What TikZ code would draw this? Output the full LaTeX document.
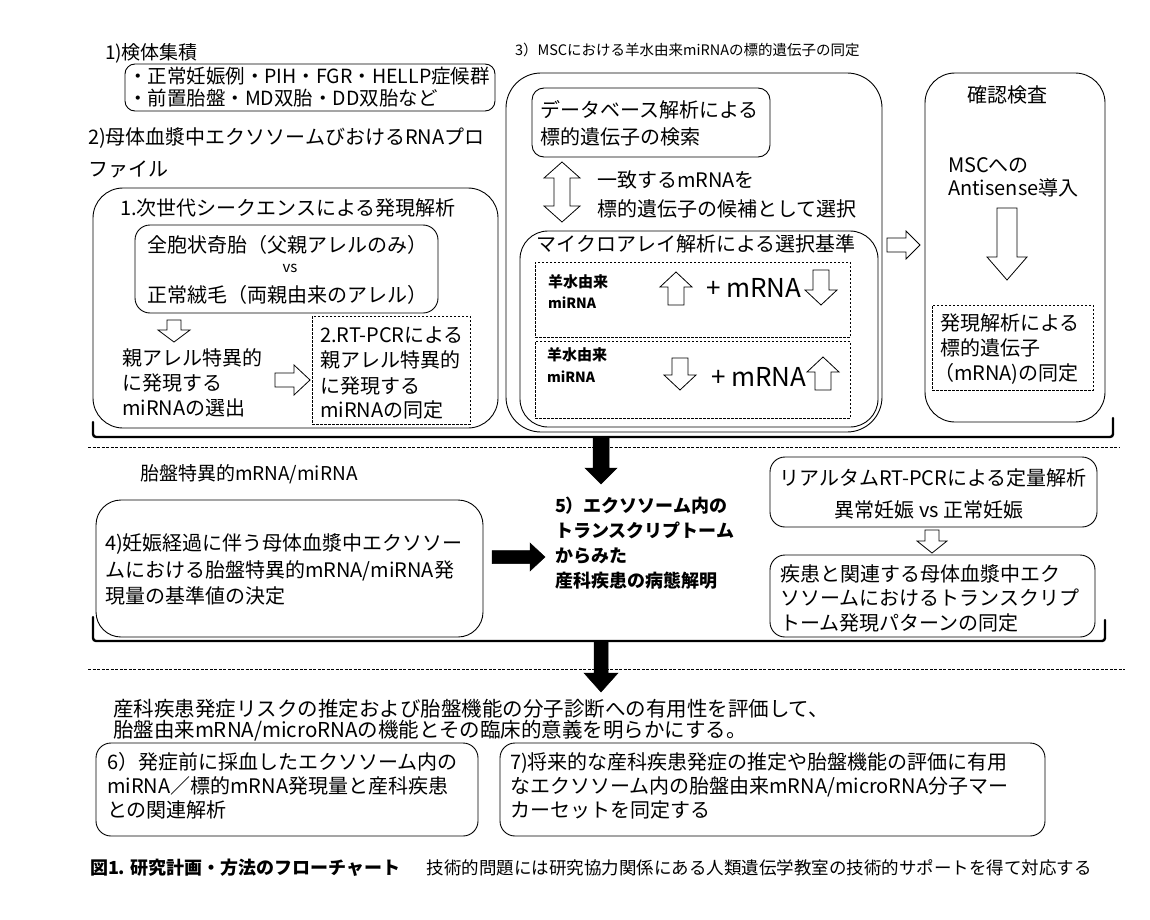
\documentclass[tikz,border=0pt]{standalone}
\usepackage{fontspec}
\setmainfont{Noto Sans CJK JP}
\newcommand\BoxAt[6]{\node[#6, minimum width={#4-#2}, minimum height={#5-#3}] (#1) at ({(#2+#4)/2},{(#3+#5)/2}) {};}
\newcommand\ArrDown[7]{\draw[#7] ({#1-#4/2},#2) -- ({#1+#4/2},#2) -- ({#1+#4/2},{#3-#6}) -- ({#1+#5/2},{#3-#6}) -- (#1,#3) -- ({#1-#5/2},{#3-#6}) -- ({#1-#4/2},{#3-#6}) -- cycle;}
\newcommand\ArrUp[7]{\draw[#7] ({#1-#4/2},#2) -- ({#1+#4/2},#2) -- ({#1+#4/2},{#3+#6}) -- ({#1+#5/2},{#3+#6}) -- (#1,#3) -- ({#1-#5/2},{#3+#6}) -- ({#1-#4/2},{#3+#6}) -- cycle;}
\newcommand\ArrRight[7]{\draw[#7] (#2,{#1-#4/2}) -- (#2,{#1+#4/2}) -- ({#3-#6},{#1+#4/2}) -- ({#3-#6},{#1+#5/2}) -- (#3,#1) -- ({#3-#6},{#1-#5/2}) -- ({#3-#6},{#1-#4/2}) -- cycle;}
\newcommand\ArrUpDown[6]{\draw[hol] (#1,#2) -- ({#1+#5/2},{#2+#6}) -- ({#1+#4/2},{#2+#6}) -- ({#1+#4/2},{#3-#6}) -- ({#1+#5/2},{#3-#6}) -- (#1,#3) -- ({#1-#5/2},{#3-#6}) -- ({#1-#4/2},{#3-#6}) -- ({#1-#4/2},{#2+#6}) -- ({#1-#5/2},{#2+#6}) -- cycle;}
\begin{document}
\begin{tikzpicture}[x=1pt,y=-1pt,
  boxr/.style={draw, line width=0.9pt, rounded corners=#1, inner sep=0pt, outer sep=0pt},
  boxd/.style={draw, line width=0.7pt, dash pattern=on 2.5pt off 1.5pt, inner sep=0pt, outer sep=0pt},
  tl/.style={inner sep=0pt, outer sep=0pt, anchor=base west, font=\fontsize{20}{24}\selectfont},
  tc/.style={tl, anchor=base},
  hol/.style={draw, fill=white, line width=0.8pt, line join=miter},
  blk/.style={draw, fill=black, line width=0.5pt},
  brk/.style={line width=2.4pt, rounded corners=3pt, line cap=round},
  sepl/.style={line width=0.6pt, dash pattern=on 3pt off 1.5pt},
  sm/.style={font=\fontsize{15}{18}\selectfont\bfseries},
  smm/.style={font=\fontsize{14}{17}\selectfont\bfseries},
  big/.style={font=\fontsize{26}{28}\selectfont},
  bd/.style={font=\fontsize{18}{22}\selectfont\bfseries}
]
\fill[white] (0,0) rectangle (1150,920);
\useasboundingbox (0,0) rectangle (1150,920);

% ---- 1) and 2)
\node[tl, font=\fontsize{19}{22}\selectfont] (t1) at (105,60) {1)検体集積};
\BoxAt{kentai}{125}{64}{495}{111}{boxr=10}
\node[tl, font=\fontsize{19.5}{22}\selectfont] (k1) at (128,84) {・正常妊娠例・PIH・FGR・HELLP症候群};
\node[tl, font=\fontsize{19.5}{22}\selectfont] (k2) at (128,106) {・前置胎盤・MD双胎・DD双胎など};
\node[tl] (t2a) at (88,144.5) {2)母体血漿中エクソソームびおけるRNAプロ};
\node[tl] (t2b) at (88,177) {ファイル};

\BoxAt{ngs}{93}{188}{498}{428}{boxr=30}
\node[tc] (ngsT) at (288,215.5) {1.次世代シークエンスによる発現解析};
\BoxAt{mole}{135}{225}{438}{313}{boxr=15}
\node[tc] (m1) at (287,252.5) {全胞状奇胎（父親アレルのみ）};
\node[tc, font=\fontsize{15}{18}\selectfont] (m2) at (290,272.5) {vs};
\node[tc] (m3) at (287,302.5) {正常絨毛（両親由来のアレル）};
\ArrDown{174}{320}{342}{14}{32}{12}{hol}
\node[tl] (s1) at (122,365.5) {親アレル特異的};
\node[tl] (s2) at (122,390.5) {に発現する};
\node[tl] (s3) at (122,415.5) {miRNAの選出};
\ArrRight{380}{275}{310}{14}{30}{16}{hol}
\BoxAt{rtpcr}{312}{316}{470}{424}{boxd}
\node[tl] (r1) at (320,342.5) {2.RT-PCRによる};
\node[tl] (r2) at (320,367.5) {親アレル特異的};
\node[tl] (r3) at (320,393.5) {に発現する};
\node[tl] (r4) at (320,417.5) {miRNAの同定};

% ---- 3)
\node[tl, font=\fontsize{14.5}{17}\selectfont] (t3) at (515,55.5) {3）MSCにおける羊水由来miRNAの標的遺伝子の同定};
\BoxAt{msc}{506}{73}{882}{432}{boxr=35}
\BoxAt{db}{532}{88}{770}{157}{boxr=12}
\node[tl] (db1) at (540,117.5) {データベース解析による};
\node[tl] (db2) at (540,144.5) {標的遺伝子の検索};
\ArrUpDown{562}{162}{222}{16}{36}{16}
\node[tl] (c1) at (597,187.5) {一致するmRNAを};
\node[tl] (c2) at (597,216.5) {標的遺伝子の候補として選択};
\BoxAt{micro}{520}{231}{878}{427}{boxr=28}
\node[tc] (microT) at (696,251.5) {マイクロアレイ解析による選択基準};
\BoxAt{critA}{535}{262}{850}{337}{boxd}
\BoxAt{critB}{535}{341}{850}{418}{boxd}
\node[tl, sm] (a1) at (548,287.5) {羊水由来};
\node[tl, smm] (a2) at (548,308) {miRNA};
\ArrUp{676}{305}{272}{16}{32}{15}{hol}
\node[tl, big] (a3) at (706,297) {+ mRNA};
\ArrDown{821}{270}{305}{16}{32}{15}{hol}
\node[tl, sm] (b1) at (547,360.5) {羊水由来};
\node[tl, smm] (b2) at (547,382) {miRNA};
\ArrDown{680}{358}{390}{16}{32}{15}{hol}
\node[tl, big] (b3) at (711,386) {+ mRNA};
\ArrUp{823}{390}{357}{16}{32}{15}{hol}
\ArrRight{245}{887}{920}{14}{28}{14}{hol}

% ---- confirmation
\BoxAt{kakunin}{925}{73}{1105}{422}{boxr=30}
\node[tc] (kk) at (1007,102.5) {確認検査};
\node[tl] (as1) at (948,172.5) {MSCへの};
\node[tl] (as2) at (948,195.5) {Antisense導入};
\ArrDown{1007}{208}{280}{20}{40}{23}{hol}
\BoxAt{hatsugen}{932}{305}{1093}{390}{boxd}
\node[tl] (h1) at (940,330.5) {発現解析による};
\node[tl] (h2) at (940,355.5) {標的遺伝子};
\node[tl] (h3) at (934,380.5) {（mRNA)の同定};

\draw[brk] (93,422) -- (93,437) -- (1113,437) -- (1113,418);
\draw[sepl] (88,447) -- (1120,447);

% ---- middle
\node[tl, font=\fontsize{19}{22}\selectfont] (pl) at (140,480) {胎盤特異的mRNA/miRNA};
\BoxAt{b4}{96}{500}{483}{637}{boxr=25}
\node[tl] (f1) at (105,550.5) {4)妊娠経過に伴う母体血漿中エクソソー};
\node[tl] (f2) at (105,577.5) {ムにおける胎盤特異的mRNA/miRNA発};
\node[tl] (f3) at (105,603.5) {現量の基準値の決定};
\ArrRight{557}{492}{545}{13}{28}{15}{blk}
\ArrDown{601}{438}{484}{16}{32}{16}{blk}
\node[tl, bd] (v1) at (555,512) {5）エクソソーム内の};
\node[tl, bd] (v2) at (555,537) {トランスクリプトーム};
\node[tl, bd] (v3) at (555,562) {からみた};
\node[tl, bd] (v4) at (555,587) {産科疾患の病態解明};
\BoxAt{real}{770}{457}{1097}{527}{boxr=15}
\node[tc] (q1) at (933,485.5) {リアルタムRT-PCRによる定量解析};
\node[tc] (q2) at (929,517.5) {異常妊娠 vs 正常妊娠};
\ArrDown{932}{530}{553}{14}{30}{12}{hol}
\BoxAt{disease}{770}{555}{1095}{637}{boxr=15}
\node[tl] (d1) at (780,581.5) {疾患と関連する母体血漿中エク};
\node[tl] (d2) at (780,605.5) {ソソームにおけるトランスクリプ};
\node[tl] (d3) at (780,630.5) {トーム発現パターンの同定};

\draw[brk] (93,617) -- (93,641) -- (1105,641) -- (1105,620);
\draw[sepl] (88,669) -- (1125,669);
\ArrDown{601}{642}{692}{14}{34}{19}{blk}

% ---- bottom
\node[tl, font=\fontsize{20.5}{24}\selectfont] (g1) at (113,716) {産科疾患発症リスクの推定および胎盤機能の分子診断への有用性を評価して、};
\node[tl, font=\fontsize{20.5}{24}\selectfont] (g2) at (113,737.5) {胎盤由来mRNA/microRNAの機能とその臨床的意義を明らかにする。};
\BoxAt{b6}{96}{743}{478}{836}{boxr=15}
\node[tl] (e1) at (107,769.5) {6）発症前に採血したエクソソーム内の};
\node[tl] (e2) at (107,793.5) {miRNA／標的mRNA発現量と産科疾患};
\node[tl] (e3) at (107,817.5) {との関連解析};
\BoxAt{b7}{500}{743}{1045}{836}{boxr=15}
\node[tl] (n1) at (510,769.5) {7)将来的な産科疾患発症の推定や胎盤機能の評価に有用};
\node[tl] (n2) at (510,793.5) {なエクソソーム内の胎盤由来mRNA/microRNA分子マー};
\node[tl] (n3) at (510,817.5) {カーセットを同定する};

\node[tl, font=\fontsize{18}{22}\selectfont\bfseries] (cap) at (90,874) {図1. 研究計画・方法のフローチャート\hspace{26pt}{\fontsize{17.5}{22}\selectfont\mdseries 技術的問題には研究協力関係にある人類遺伝学教室の技術的サポートを得て対応する}};
\end{tikzpicture}
\end{document}
